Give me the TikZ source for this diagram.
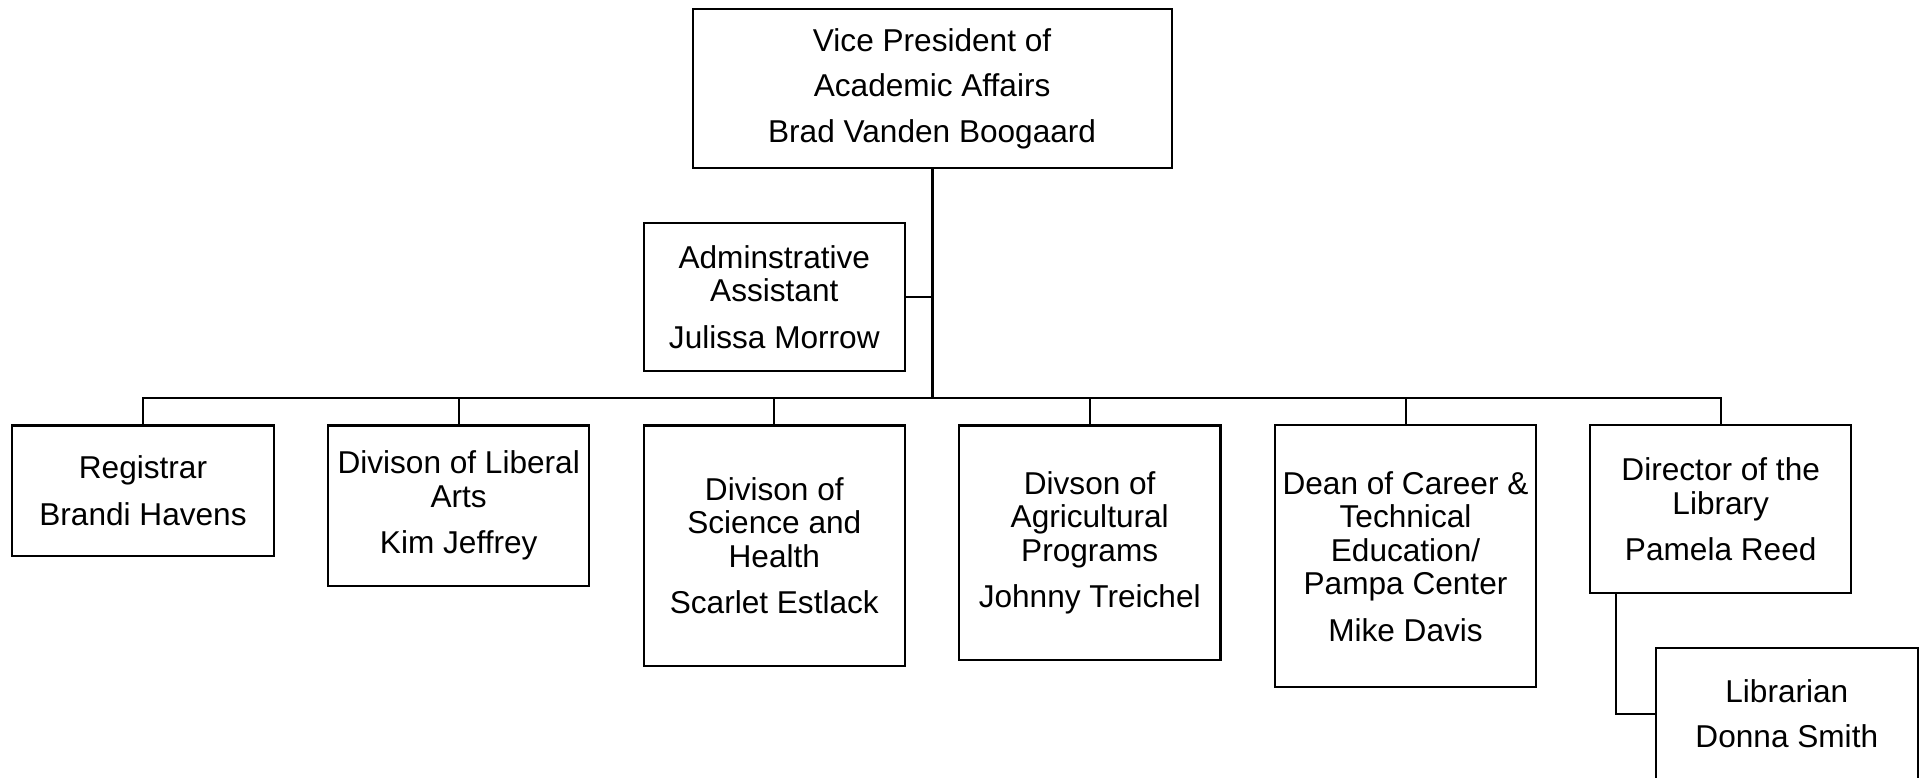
\documentclass[tikz,border=0pt]{standalone}
\usepackage{fontspec}
\setmainfont{Liberation Sans}
\begin{document}
\begin{tikzpicture}[x=0.5pt,y=-0.5pt,
  box/.style={draw=black,line width=1.1pt,fill=white,inner sep=0pt,align=center,
    font=\fontsize{15.8}{16.75}\selectfont},
  link/.style={draw=black,line width=1pt},
  trunk/.style={draw=black,line width=1.5pt}]
\useasboundingbox (0,0) rectangle (1925,777);
\node[box,minimum width=239.5pt,minimum height=79.5pt] (vp) at (932.1,88.8)
  {Vice President of\\[6pt]Academic Affairs\\[6pt]Brad Vanden Boogaard};
\node[box,minimum width=130.7pt,minimum height=74pt] (adm) at (774.3,296.7)
  {Adminstrative\\Assistant\\[6.5pt]Julissa Morrow};
\node[box,minimum width=130.7pt,minimum height=65.3pt] (reg) at (143,490.7)
  {Registrar\\[6.5pt]Brandi Havens};
\node[box,minimum width=130.5pt,minimum height=80.3pt] (lib) at (458.7,505.7)
  {Divison of Liberal\\Arts\\[6.5pt]Kim Jeffrey};
\node[box,minimum width=130.7pt,minimum height=120.3pt] (sci) at (774.3,545.7)
  {Divison of\\Science and\\Health\\[6.5pt]Scarlet Estlack};
\node[box,minimum width=130.7pt,minimum height=117.3pt] (agr) at (1089.7,542.7)
  {Divson of\\Agricultural\\Programs\\[6.5pt]Johnny Treichel};
\node[box,minimum width=130.5pt,minimum height=131pt] (dean) at (1405.5,556.3)
  {Dean of Career \&\\Technical\\Education/\\Pampa Center\\[6.5pt]Mike Davis};
\node[box,minimum width=130.5pt,minimum height=84pt] (dir) at (1720.7,509.3)
  {Director of the\\Library\\[6.5pt]Pamela Reed};
\node[box,minimum width=130.8pt,minimum height=66.2pt] (lbr) at (1786.8,713.8)
  {Librarian\\[6pt]Donna Smith};
\coordinate (bus) at (932.1,397.7);
\draw[trunk] (vp.south) -- (bus);
\draw[link] (adm.east) -- (adm.east -| vp.south);
\draw[link] (reg.north) -- (reg.north |- bus) -- (dir.north |- bus) -- (dir.north);
\draw[link] (lib.north) -- (lib.north |- bus);
\draw[link] (sci.north) -- (sci.north |- bus);
\draw[link] (agr.north) -- (agr.north |- bus);
\draw[link] (dean.north) -- (dean.north |- bus);
\draw[link] ([xshift=13.25pt]dir.south west) |- (lbr.west);
\end{tikzpicture}
\end{document}
